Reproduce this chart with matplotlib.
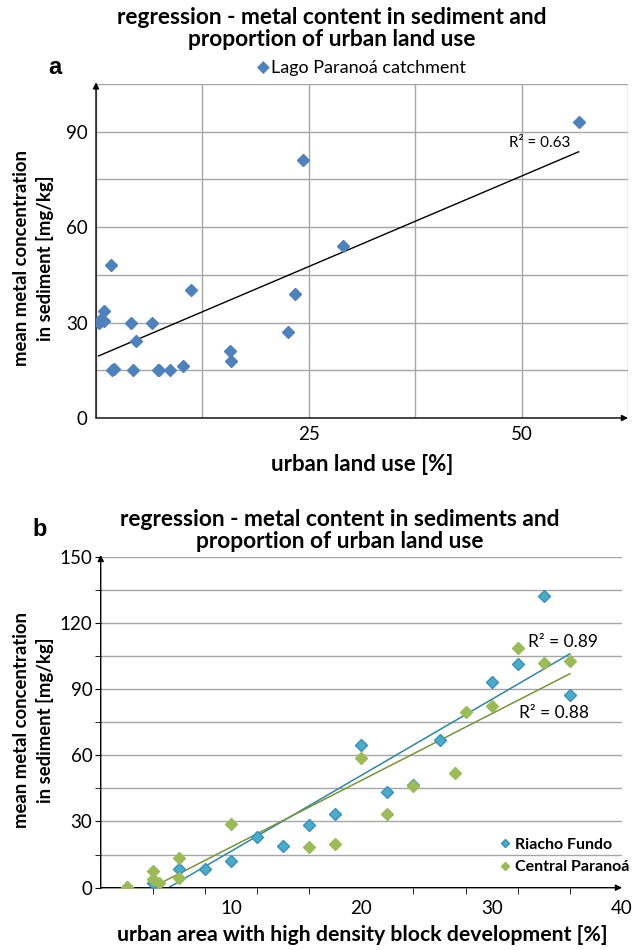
import matplotlib
matplotlib.use("Agg")
import matplotlib.pyplot as plt
import numpy as np

plt.rcParams['font.family'] = ['Lato', 'DejaVu Sans']

# panel a - Lago Paranoá catchment
urban_a = [0.3, 0.6, 0.9, 0.9, 1.8, 1.9, 2.1, 4.1, 4.4, 4.7, 6.6, 7.3, 7.4,
           8.7, 10.2, 11.2, 15.7, 15.9, 22.5, 23.4, 24.3, 29.0, 56.7]
metal_a = [30.0, 31.0, 33.5, 30.5, 48.1, 15.0, 15.3, 30.0, 15.0, 24.1, 30.0,
           15.0, 15.2, 15.0, 16.2, 40.1, 21.2, 18.0, 27.0, 39.1, 81.1, 54.0, 93.0]

# panel b - two sub-catchments
urban_rf = [4, 6, 8, 10, 12, 14, 16, 18, 20, 22, 24, 26, 30, 32, 34, 36]
metal_rf = [2.0, 8.6, 8.5, 12.0, 23.0, 18.7, 28.4, 33.5, 64.8, 43.4, 46.7,
            66.8, 93.3, 101.5, 132.3, 87.4]
urban_cp = [2, 4, 4, 4.5, 6, 6, 10, 16, 18, 20, 22, 24, 27.2, 28, 30, 32, 34, 36]
metal_cp = [0.5, 7.4, 4.1, 2.3, 13.3, 4.5, 28.7, 18.6, 19.9, 58.9, 33.4, 46.2,
            51.8, 79.6, 82.5, 108.5, 101.7, 102.6]

# linear trend lines as shown in the chart (slope, intercept)
trend_rf = [3.44, -17.9]
trend_cp = [3.02, -11.8]

r2_a = 0.63
r2_rf = 0.89
r2_cp = 0.88

blue = '#4F81BD'
rf_color = '#4BACC6'
rf_edge = '#3B8FC0'
rf_line = '#31859C'
cp_color = '#9BBB59'
cp_line = '#77933C'
grid_c = '#A6A6A6'

fig = plt.figure(figsize=(6.41, 9.5), dpi=100)
W, H = 641, 950

def fx(px):
    return px / W

def fy(py):
    return 1 - py / H

def arrows(ax):
    for s in ['top', 'right', 'bottom', 'left']:
        ax.spines[s].set_visible(False)
    ax.annotate('', xy=(1.0, 0), xytext=(0, 0), xycoords='axes fraction',
                arrowprops=dict(arrowstyle='-|>', color='black', lw=1,
                                mutation_scale=9, shrinkA=0, shrinkB=0))
    ax.annotate('', xy=(0, 1.005), xytext=(0, 0), xycoords='axes fraction',
                arrowprops=dict(arrowstyle='-|>', color='black', lw=1,
                                mutation_scale=9, shrinkA=0, shrinkB=0))

# ---------------- panel a ----------------
axa = fig.add_axes([fx(96), fy(418), fx(628) - fx(96), fy(84) - fy(418)])
axa.set_xlim(0, 62.5)
axa.set_ylim(0, 105)
axa.set_xticks(np.arange(0, 62.6, 12.5))
axa.set_xticklabels(['', '', '25', '', '50', ''])
axa.set_yticks(np.arange(0, 106, 15))
axa.set_yticklabels(['0', '', '30', '', '60', '', '90', ''])
axa.grid(True, color=grid_c, lw=1)
axa.set_axisbelow(True)
axa.tick_params(length=0, labelsize=13.5, pad=6)
arrows(axa)

axa.plot(urban_a, metal_a, 'D', color=blue, ms=6.3, mec=blue, zorder=3)
ka, ba = np.polyfit(urban_a, metal_a, 1)
xa = np.array([min(urban_a), max(urban_a)])
axa.plot(xa, ka * xa + ba, color='black', lw=1, zorder=2)
axa.text(52.1, 86.5, f'R² = {r2_a}', fontsize=11, ha='center', va='center')

fig.text(fx(332), fy(17), 'regression - metal content in sediment and',
         ha='center', va='center', fontsize=16.4, fontweight='bold')
fig.text(fx(332), fy(40), 'proportion of urban land use',
         ha='center', va='center', fontsize=16.4, fontweight='bold')
fig.text(fx(55), fy(68), 'a', ha='center', va='center', fontsize=17,
         fontweight='bold', family=['Liberation Sans', 'DejaVu Sans'])
fig.text(fx(263), fy(68), '\u25C6', ha='center', va='center', fontsize=12,
         color=blue, family=['DejaVu Sans'])
fig.text(fx(271), fy(68), 'Lago Paranoá catchment', ha='left', va='center',
         fontsize=13)
fig.text(fx(22), fy(258), 'mean metal concentration', rotation=90,
         ha='center', va='center', fontsize=13.3, fontweight='bold')
fig.text(fx(45), fy(258), 'in sediment [mg/kg]', rotation=90,
         ha='center', va='center', fontsize=13.3, fontweight='bold')
fig.text(fx(362), fy(465), 'urban land use [%]', ha='center', va='center',
         fontsize=16, fontweight='bold')

# ---------------- panel b ----------------
axb = fig.add_axes([fx(100.7), fy(887.7), fx(622) - fx(100.7),
                    fy(556.6) - fy(887.7)])
axb.set_xlim(0, 40)
axb.set_ylim(0, 150)
axb.set_xticks([10, 20, 30, 40])
axb.set_xticks(np.arange(4, 37, 4), minor=True)
axb.set_yticks(np.arange(0, 151, 30))
axb.set_yticks(np.arange(15, 151, 30), minor=True)
axb.yaxis.grid(True, which='both', color=grid_c, lw=1)
axb.set_axisbelow(True)
axb.tick_params(axis='x', which='major', length=0, labelsize=13.5, pad=9)
axb.tick_params(axis='x', which='minor', length=4, direction='out')
axb.tick_params(axis='y', which='both', length=4, direction='out',
                labelsize=13.5, pad=2)
arrows(axb)

axb.plot(urban_rf, metal_rf, 'D', color=rf_color, mec=rf_edge, ms=6.3,
         zorder=3, label='Riacho Fundo')
axb.plot(urban_cp, metal_cp, 'D', color=cp_color, mec=cp_color, ms=6.3,
         zorder=3, label='Central Paranoá')
xrf = np.array([min(urban_rf), max(urban_rf)])
xcp = np.array([min(urban_cp), max(urban_cp)])
axb.plot(xrf, trend_rf[0] * xrf + trend_rf[1], color=rf_line, lw=1.1, zorder=2)
axb.plot(xcp, trend_cp[0] * xcp + trend_cp[1], color=cp_line, lw=1.1, zorder=2)
axb.text(35.5, 111.5, f'R² = {r2_rf}', fontsize=12.5, ha='center', va='center')
axb.text(34.8, 79, f'R² = {r2_cp}', fontsize=12.5, ha='center', va='center')

leg = axb.legend(loc='center left', bbox_to_anchor=(fx(483), fy(856)),
                 bbox_transform=fig.transFigure, frameon=False,
                 handletextpad=0.1, handlelength=1.0, markerscale=0.7,
                 labelspacing=0.5, prop={'weight': 'bold', 'size': 11.5})

fig.text(fx(340), fy(519), 'regression - metal content in sediments and',
         ha='center', va='center', fontsize=16.4, fontweight='bold')
fig.text(fx(340), fy(542), 'proportion of urban land use',
         ha='center', va='center', fontsize=16.4, fontweight='bold')
fig.text(fx(40), fy(530), 'b', ha='center', va='center', fontsize=17,
         fontweight='bold', family=['Liberation Sans', 'DejaVu Sans'])
fig.text(fx(22), fy(720), 'mean metal concentration', rotation=90,
         ha='center', va='center', fontsize=13.3, fontweight='bold')
fig.text(fx(45), fy(720), 'in sediment [mg/kg]', rotation=90,
         ha='center', va='center', fontsize=13.3, fontweight='bold')
fig.text(fx(362), fy(935), 'urban area with high density block development [%]',
         ha='center', va='center', fontsize=15.3, fontweight='bold')

fig.savefig('out.png', dpi=100)
